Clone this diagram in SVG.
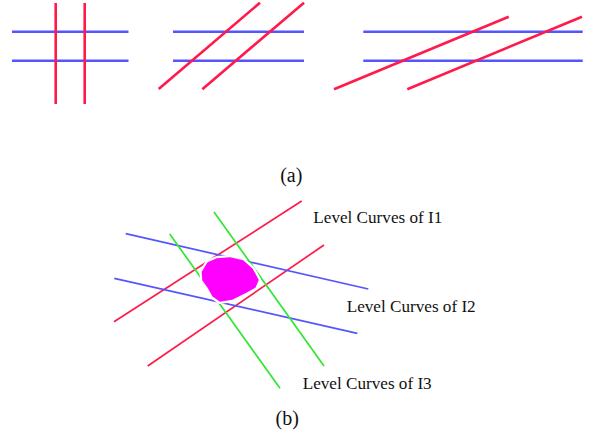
<svg xmlns="http://www.w3.org/2000/svg" width="597" height="438" viewBox="0 0 597 438">
<style>
.r{stroke:#ff1a4a;fill:none}
.b{stroke:#5555ff;fill:none}
.g{stroke:#33e633;fill:none}
.a{stroke-width:2.6}
.t{stroke-width:1.7}
text{font-family:"Liberation Serif","Times New Roman",serif;fill:#111}
</style>
<defs>
<polygon id="blob" points="202.5,272 208,263 217,259 230,258 243,261 252,269 258,280 255,287 246,292 232,299 220,301 213,296 208,287 203,280"/>
</defs>
<rect width="597" height="438" fill="#fff"/>
<g id="panel-a">
<g id="a1">
<line class="b a" x1="12" y1="31.7" x2="128.5" y2="31.7"/>
<line class="b a" x1="12" y1="60.7" x2="128.5" y2="60.7"/>
<line class="r a" x1="55.7" y1="3" x2="55.7" y2="104"/>
<line class="r a" x1="84.7" y1="3" x2="84.7" y2="104"/>
</g>
<g id="a2">
<line class="b a" x1="173" y1="31.7" x2="304" y2="31.7"/>
<line class="b a" x1="173" y1="60.7" x2="304" y2="60.7"/>
<line class="r a" x1="158.7" y1="89" x2="260" y2="2.7"/>
<line class="r a" x1="202.3" y1="89.3" x2="304" y2="2.7"/>
</g>
<g id="a3">
<line class="b a" x1="363.3" y1="31.7" x2="582.7" y2="31.7"/>
<line class="b a" x1="363.3" y1="60.7" x2="582.7" y2="60.7"/>
<line class="r a" x1="334" y1="89.3" x2="508.7" y2="16.7"/>
<line class="r a" x1="407.3" y1="89.3" x2="582" y2="16.7"/>
</g>
<text x="291.3" y="181.7" font-size="20" text-anchor="middle">(a)</text>
</g>
<g id="panel-b">
<g id="curves">
<line class="r t" x1="114" y1="321.7" x2="301.7" y2="201"/>
<line class="r t" x1="147.7" y1="366" x2="324" y2="245"/>
<line class="b t" x1="125.7" y1="233.7" x2="368.3" y2="289"/>
<line class="b t" x1="114.3" y1="278.3" x2="357.3" y2="333.3"/>
<line class="g t" x1="169.7" y1="234" x2="280" y2="388.3"/>
<line class="g t" x1="214" y1="212" x2="324" y2="366"/>
</g>
<g id="region">
<use href="#blob" fill="#fff" stroke="#fff" stroke-width="6" stroke-linejoin="round"/>
<use href="#blob" fill="#ff00ff" stroke="#ff00ff" stroke-width="1.5" stroke-linejoin="round"/>
</g>
<g id="labels">
<text x="313.3" y="222.7" font-size="17" textLength="129" lengthAdjust="spacingAndGlyphs">Level Curves of I1</text>
<text x="346.7" y="311.7" font-size="17" textLength="129" lengthAdjust="spacingAndGlyphs">Level Curves of I2</text>
<text x="302.7" y="389" font-size="17" textLength="129" lengthAdjust="spacingAndGlyphs">Level Curves of I3</text>
</g>
<text x="287.2" y="425" font-size="20" text-anchor="middle">(b)</text>
</g>
</svg>
